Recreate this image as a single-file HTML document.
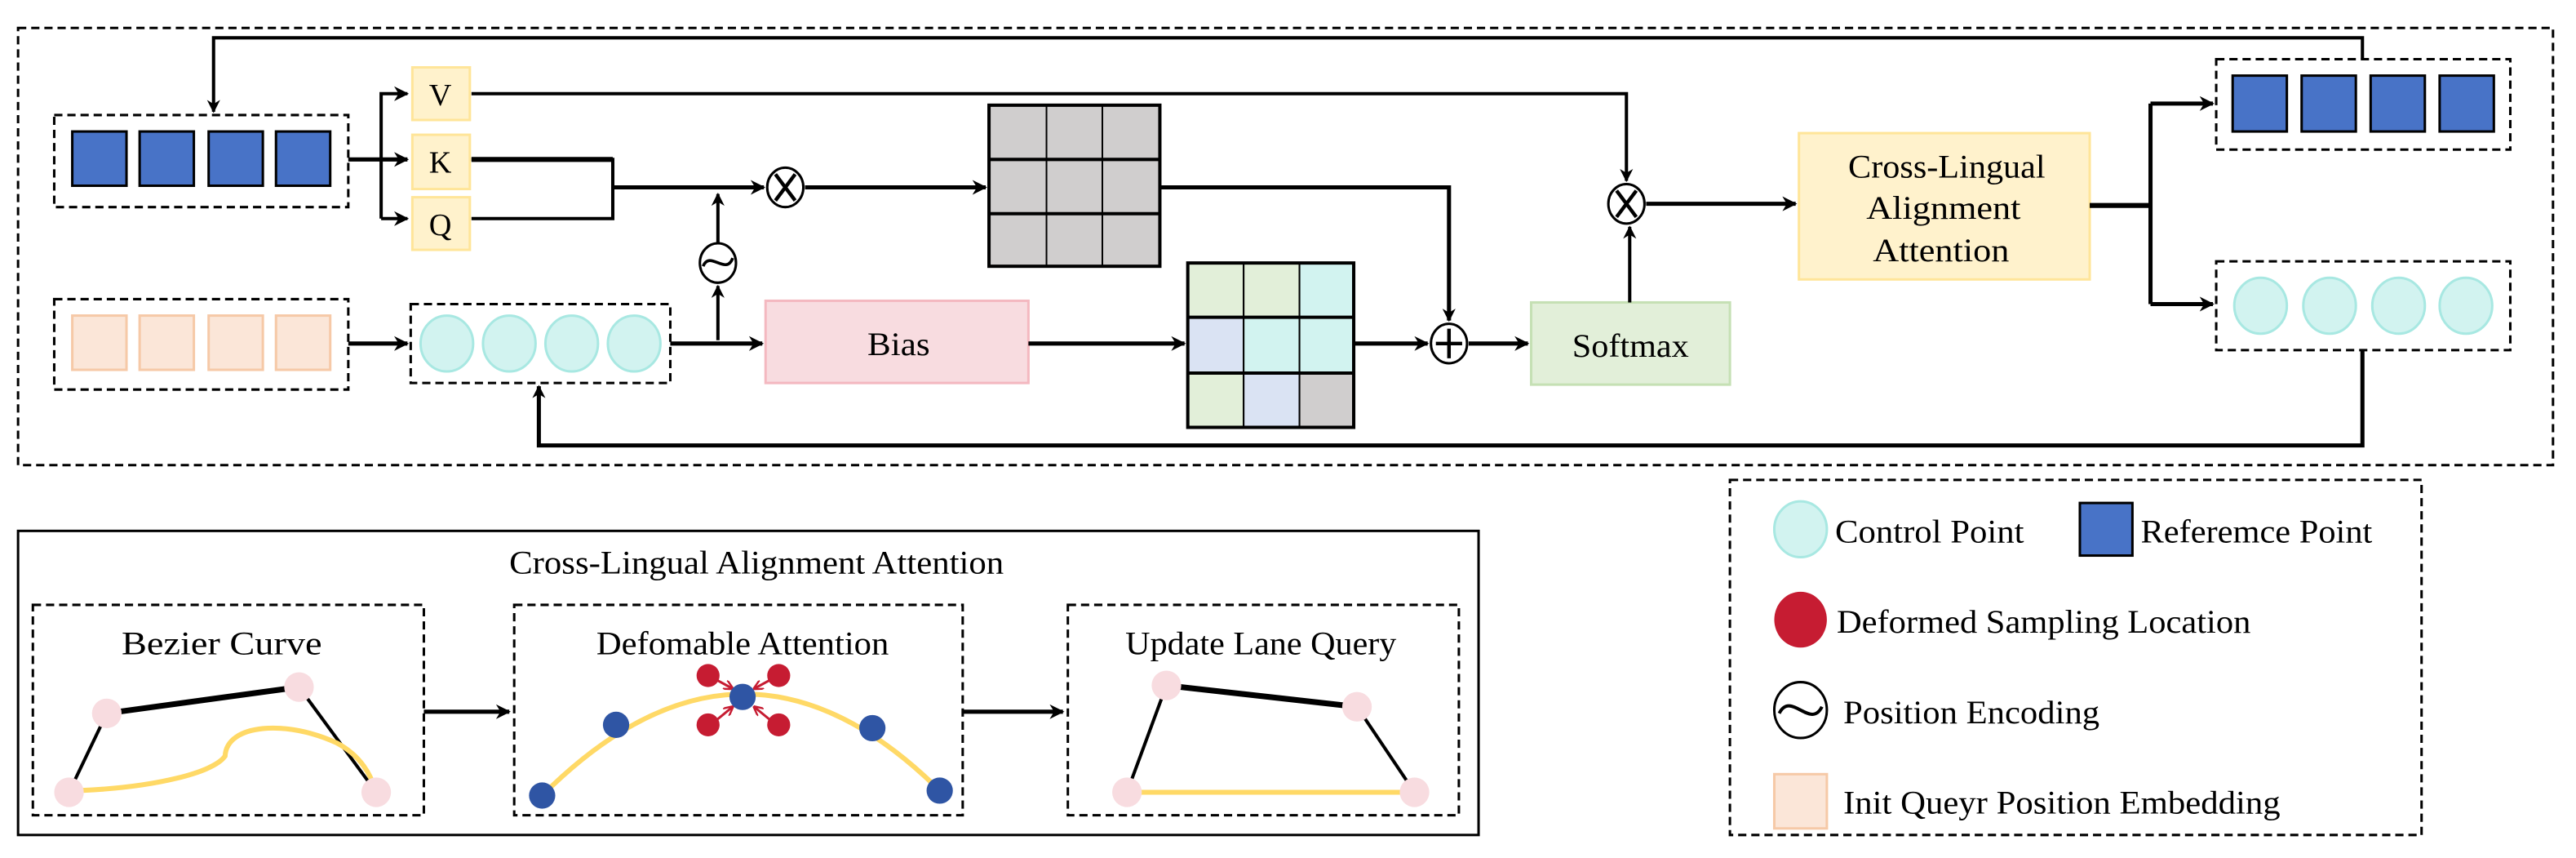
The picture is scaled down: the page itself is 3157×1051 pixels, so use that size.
<!DOCTYPE html>
<html><head><meta charset="utf-8"><style>html,body{margin:0;padding:0;background:#fff}svg{display:block}svg text{font-family:"Liberation Serif","DejaVu Serif","Times New Roman",serif;fill:#000}</style></head>
<body>
<svg width="3157" height="1051" viewBox="0 0 1568 522" preserveAspectRatio="none" xmlns="http://www.w3.org/2000/svg">
<defs>
<marker id="a" viewBox="0 0 10 10" refX="9" refY="5" markerWidth="8" markerHeight="8" orient="auto" markerUnits="userSpaceOnUse"><path d="M0,0 L10,5 L0,10 L3,5 z" fill="#000"/></marker>
<marker id="b" viewBox="0 0 10 10" refX="9" refY="5" markerWidth="9" markerHeight="9" orient="auto" markerUnits="userSpaceOnUse"><path d="M0,0 L10,5 L0,10 L3,5 z" fill="#000"/></marker>
<marker id="r" viewBox="0 0 10 10" refX="9" refY="5" markerWidth="6" markerHeight="6" orient="auto" markerUnits="userSpaceOnUse"><path d="M0,0 L10,5 L0,10" fill="none" stroke="#c61c32" stroke-width="2"/></marker>
</defs>
<g fill="none" stroke="#000" stroke-width="1.5" stroke-dasharray="5,3">
<rect x="11" y="17" width="1543" height="266"/>
<rect x="33" y="70" width="179" height="56"/>
<rect x="33" y="182" width="179" height="55"/>
<rect x="250" y="185" width="158" height="48"/>
<rect x="1349" y="36" width="179" height="55"/>
<rect x="1349" y="159" width="179" height="54"/>
<rect x="1053" y="292" width="421" height="216"/>
<rect x="20" y="368" width="238" height="128"/>
<rect x="313" y="368" width="273" height="128"/>
<rect x="650" y="368" width="238" height="128"/>
</g>
<rect x="11" y="323" width="889" height="185" fill="none" stroke="#000" stroke-width="1.5"/>
<g fill="#4873c7" stroke="#000" stroke-width="1.5">
<rect x="44" y="80" width="33" height="33"/><rect x="85" y="80" width="33" height="33"/><rect x="127" y="80" width="33" height="33"/><rect x="168" y="80" width="33" height="33"/>
<rect x="1359" y="46" width="33" height="34"/><rect x="1401" y="46" width="33" height="34"/><rect x="1443" y="46" width="33" height="34"/><rect x="1485" y="46" width="33" height="34"/>
<rect x="1266" y="306" width="32" height="32"/>
</g>
<g fill="#fbe6d8" stroke="#f6c9a7" stroke-width="1.5">
<rect x="44" y="192" width="33" height="33"/><rect x="85" y="192" width="33" height="33"/><rect x="127" y="192" width="33" height="33"/><rect x="168" y="192" width="33" height="33"/>
<rect x="1080" y="471" width="32" height="33"/>
</g>
<g fill="#d2f3f0" stroke="#a8e8e2" stroke-width="1.5">
<ellipse cx="272" cy="209" rx="16" ry="17"/><ellipse cx="310" cy="209" rx="16" ry="17"/><ellipse cx="348" cy="209" rx="16" ry="17"/><ellipse cx="386" cy="209" rx="16" ry="17"/>
<ellipse cx="1376" cy="186" rx="16" ry="17"/><ellipse cx="1418" cy="186" rx="16" ry="17"/><ellipse cx="1460" cy="186" rx="16" ry="17"/><ellipse cx="1501" cy="186" rx="16" ry="17"/>
<ellipse cx="1096" cy="322" rx="16" ry="17"/>
</g>
<g fill="#fff2cc" stroke="#ffe599" stroke-width="1.5">
<rect x="251" y="41" width="35" height="32"/><rect x="251" y="82" width="35" height="33"/><rect x="251" y="120" width="35" height="32"/>
<rect x="1095" y="81" width="177" height="89"/>
</g>
<g font-size="19" text-anchor="middle">
<text x="268" y="64">V</text><text x="268" y="105">K</text><text x="268" y="143">Q</text>
</g>
<rect x="466" y="183" width="160" height="50" fill="#f8dce0" stroke="#f4b8c0" stroke-width="1.5"/>
<rect x="932" y="184" width="121" height="50" fill="#e2efd9" stroke="#c5e0b4" stroke-width="1.5"/>
<g font-size="20" lengthAdjust="spacingAndGlyphs">
<text x="528" y="216" textLength="38" lengthAdjust="spacingAndGlyphs">Bias</text>
<text x="957" y="217" textLength="71" lengthAdjust="spacingAndGlyphs">Softmax</text>
<text x="1125" y="108" textLength="120" lengthAdjust="spacingAndGlyphs">Cross-Lingual</text>
<text x="1136" y="133" textLength="94" lengthAdjust="spacingAndGlyphs">Alignment</text>
<text x="1140" y="159" textLength="83" lengthAdjust="spacingAndGlyphs">Attention</text>
</g>
<g stroke="#000" stroke-width="1">
<rect x="602" y="64" width="104" height="98" fill="#d0cece" stroke-width="2"/>
<line x1="637" y1="64" x2="637" y2="162"/><line x1="671" y1="64" x2="671" y2="162"/>
<line x1="602" y1="97" x2="706" y2="97" stroke-width="2"/><line x1="602" y1="130" x2="706" y2="130" stroke-width="2"/>
</g>
<g stroke="#000" stroke-width="1">
<rect x="723" y="160" width="34" height="33" fill="#e2efd9"/><rect x="757" y="160" width="34" height="33" fill="#e2efd9"/><rect x="791" y="160" width="33" height="33" fill="#d2f3f0"/>
<rect x="723" y="193" width="34" height="34" fill="#dae3f3"/><rect x="757" y="193" width="34" height="34" fill="#d2f3f0"/><rect x="791" y="193" width="33" height="34" fill="#d2f3f0"/>
<rect x="723" y="227" width="34" height="33" fill="#e2efd9"/><rect x="757" y="227" width="34" height="33" fill="#dae3f3"/><rect x="791" y="227" width="33" height="33" fill="#d0cece"/>
<rect x="723" y="160" width="101" height="100" fill="none" stroke-width="2"/>
<line x1="723" y1="193" x2="824" y2="193" stroke-width="2"/><line x1="723" y1="227" x2="824" y2="227" stroke-width="2"/>
</g>
<g fill="#fff" stroke="#000" stroke-width="1.5">
<ellipse cx="478" cy="114" rx="11" ry="12"/><ellipse cx="990" cy="124" rx="11" ry="12"/><ellipse cx="882" cy="209" rx="11" ry="12"/>
<ellipse cx="437" cy="160" rx="11" ry="12"/><ellipse cx="1096" cy="432" rx="16" ry="17"/>
</g>
<g stroke="#000" stroke-width="2.2" fill="none">
<path d="M472,106 L484,122 M484,106 L472,122"/><path d="M984,116 L996,132 M996,116 L984,132"/>
<path d="M882,200 V218 M874,209 H890"/>
<path d="M428,162 C432,152 442,168 446,157" stroke-width="1.8"/>
<path d="M1083,434 C1090,420 1102,444 1109,430" stroke-width="2"/>
</g>
<g stroke="#000" fill="none" stroke-width="2">
<path d="M1438,36 V23 H130 V68" marker-end="url(#a)"/>
<path d="M1438,213 V271 H328 V235" marker-end="url(#a)" stroke-width="2.5"/>
<path d="M212,97 H248" marker-end="url(#b)" stroke-width="2.5"/>
<path d="M232,133 V57 H248" marker-end="url(#b)"/>
<path d="M232,133 H248" marker-end="url(#b)"/>
<path d="M287,57 H990 V110" marker-end="url(#a)"/>
<path d="M287,97 H373 V133 H287" stroke-width="2"/>
<path d="M287,97 H373" stroke-width="3"/>
<path d="M373,114 H465" marker-end="url(#b)" stroke-width="2.5"/>
<path d="M490,114 H600" marker-end="url(#b)" stroke-width="2.5"/>
<path d="M706,114 H882 V195" marker-end="url(#a)" stroke-width="2.5"/>
<path d="M437,207 V174" marker-end="url(#a)"/>
<path d="M437,148 V118" marker-end="url(#a)"/>
<path d="M212,209 H248" marker-end="url(#b)" stroke-width="2.5"/>
<path d="M408,209 H464" marker-end="url(#b)" stroke-width="2.5"/>
<path d="M626,209 H721" marker-end="url(#b)" stroke-width="2.5"/>
<path d="M824,209 H869" marker-end="url(#b)" stroke-width="2.5"/>
<path d="M894,209 H930" marker-end="url(#b)" stroke-width="2.5"/>
<path d="M992,184 V138" marker-end="url(#a)"/>
<path d="M1002,124 H1093" marker-end="url(#b)" stroke-width="2.5"/>
<path d="M1272,125 H1309" stroke-width="3"/>
<path d="M1309,63 V185" stroke-width="2.5"/>
<path d="M1309,63 H1347" marker-end="url(#b)" stroke-width="2.5"/>
<path d="M1309,185 H1347" marker-end="url(#b)" stroke-width="2.5"/>
<path d="M258,433 H310" marker-end="url(#b)" stroke-width="2.5"/>
<path d="M586,433 H647" marker-end="url(#b)" stroke-width="2.5"/>
</g>
<g font-size="20">
<text x="310" y="349" textLength="301" lengthAdjust="spacingAndGlyphs">Cross-Lingual Alignment Attention</text>
<text x="74" y="398" textLength="122" lengthAdjust="spacingAndGlyphs">Bezier Curve</text>
<text x="363" y="398" textLength="178" lengthAdjust="spacingAndGlyphs">Defomable Attention</text>
<text x="685" y="398" textLength="165" lengthAdjust="spacingAndGlyphs">Update Lane Query</text>
</g>
<g stroke="#000" fill="none">
<path d="M65,434 L182,418" stroke-width="3.5"/><path d="M65,434 L42,482" stroke-width="2"/><path d="M182,418 L229,482" stroke-width="2"/>
<path d="M710,417 L826,430" stroke-width="3.5"/><path d="M710,417 L686,482" stroke-width="2"/><path d="M826,430 L861,482" stroke-width="2"/>
</g>
<g stroke="#ffd966" fill="none" stroke-width="3">
<path d="M48,481 C95,479 130,470 137,460 C138,440 175,438 205,452 C220,460 226,472 228,480"/>
<path d="M330,484 Q452,362 572,481"/>
<path d="M686,482 H861"/>
</g>
<g fill="#f8dce0">
<ellipse cx="65" cy="434" rx="9" ry="9"/><ellipse cx="182" cy="418" rx="9" ry="9"/><ellipse cx="42" cy="482" rx="9" ry="9"/><ellipse cx="229" cy="482" rx="9" ry="9"/>
<ellipse cx="710" cy="417" rx="9" ry="9"/><ellipse cx="826" cy="430" rx="9" ry="9"/><ellipse cx="686" cy="482" rx="9" ry="9"/><ellipse cx="861" cy="482" rx="9" ry="9"/>
</g>
<g stroke="#c61c32" stroke-width="1.5" fill="none">
<path d="M435,413 L446,419" marker-end="url(#r)"/><path d="M470,413 L459,419" marker-end="url(#r)"/>
<path d="M435,439 L446,430" marker-end="url(#r)"/><path d="M470,439 L459,430" marker-end="url(#r)"/>
</g>
<g fill="#c61c32">
<ellipse cx="431" cy="411" rx="7" ry="7"/><ellipse cx="474" cy="411" rx="7" ry="7"/><ellipse cx="431" cy="441" rx="7" ry="7"/><ellipse cx="474" cy="441" rx="7" ry="7"/>
<ellipse cx="1096" cy="377" rx="16" ry="17"/>
</g>
<g fill="#2f55a4">
<ellipse cx="330" cy="484" rx="8" ry="8"/><ellipse cx="375" cy="441" rx="8" ry="8"/><ellipse cx="452" cy="424" rx="8" ry="8"/><ellipse cx="531" cy="443" rx="8" ry="8"/><ellipse cx="572" cy="481" rx="8" ry="8"/>
</g>
<g font-size="20">
<text x="1117" y="330" textLength="115" lengthAdjust="spacingAndGlyphs">Control Point</text>
<text x="1303" y="330" textLength="141" lengthAdjust="spacingAndGlyphs">Referemce Point</text>
<text x="1118" y="385" textLength="252" lengthAdjust="spacingAndGlyphs">Deformed Sampling Location</text>
<text x="1122" y="440" textLength="156" lengthAdjust="spacingAndGlyphs">Position Encoding</text>
<text x="1122" y="495" textLength="266" lengthAdjust="spacingAndGlyphs">Init Queyr Position Embedding</text>
</g>
</svg>
</body></html>
